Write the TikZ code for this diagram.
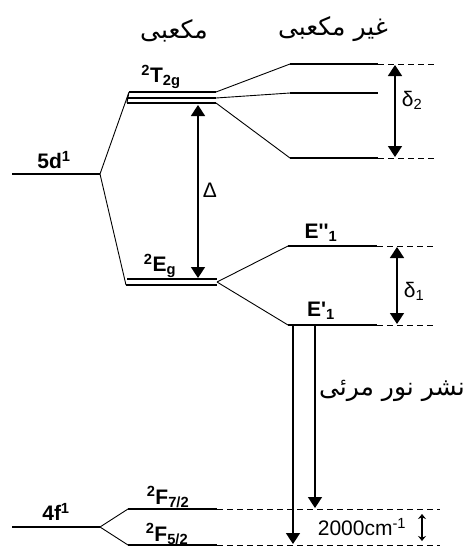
\documentclass[tikz,border=0pt]{standalone}
\usepackage{fontspec}
\setmainfont{Liberation Sans}
\newfontfamily\farsi[Script=Arabic]{DejaVu Sans}
\TeXXeTstate=1
\usetikzlibrary{arrows.meta}
\begin{document}
\begin{tikzpicture}[x=1pt,y=-1pt,
 level/.style={line width=2pt},
 link/.style={line width=0.9pt},
 guide/.style={line width=0.9pt, dash pattern=on 6pt off 4pt},
 gaparrow/.style={line width=1.6pt, {Triangle[width=14pt,length=11pt]}-{Triangle[width=14pt,length=11pt]}},
 emit/.style={line width=1.6pt, -{Triangle[width=14pt,length=11pt]}},
 smallarrow/.style={line width=1.3pt, {Stealth[width=8pt,length=5pt]}-{Stealth[width=8pt,length=5pt]}},
 lbl/.style={font=\fontsize{21}{23}\selectfont\bfseries, inner sep=0pt},
 greek/.style={font=\fontsize{21}{23}\selectfont, inner sep=0pt},
 fa/.style={font=\fontsize{25}{28}\selectfont\farsi, inner sep=0pt}]
\useasboundingbox (0,0) rectangle (473,547);
% coordinates of levels
\coordinate (d5a) at (12,174);  \coordinate (d5b) at (100,174);
\coordinate (t1a) at (129,92);  \coordinate (t1b) at (216,92);
\coordinate (t2a) at (127,98);  \coordinate (t2b) at (216,98);
\coordinate (t3a) at (127,103); \coordinate (t3b) at (216,103);
\coordinate (e1a) at (127,279); \coordinate (e1b) at (217,279);
\coordinate (e2a) at (126,285); \coordinate (e2b) at (217,285);
\coordinate (eg) at (217,282);
\coordinate (n1a) at (290,64);  \coordinate (n1b) at (378,64);  \coordinate (n1c) at (435,64);
\coordinate (n2a) at (290,93);  \coordinate (n2b) at (378,93);
\coordinate (n3a) at (290,158); \coordinate (n3b) at (378,158); \coordinate (n3c) at (435,158);
\coordinate (ea) at (288,246);  \coordinate (eb) at (377,246);  \coordinate (ec) at (433,246);
\coordinate (fa) at (288,325);  \coordinate (fb) at (377,325);  \coordinate (fc) at (433,325);
\coordinate (f4a) at (12,527);  \coordinate (f4b) at (100,527);
\coordinate (s7a) at (128,509); \coordinate (s7b) at (217,509); \coordinate (s7c) at (440,509);
\coordinate (s5a) at (128,545); \coordinate (s5b) at (217,545); \coordinate (s5c) at (440,545);
% levels
\draw[level] (d5a) -- (d5b);
\draw[level] (t1a) -- (t1b);
\draw[level] (t2a) -- (t2b);
\draw[level] (t3a) -- (t3b);
\draw[level] (e1a) -- (e1b);
\draw[level] (e2a) -- (e2b);
\draw[level] (n1a) -- (n1b);
\draw[level] (n2a) -- (n2b);
\draw[level] (n3a) -- (n3b);
\draw[level] (ea) -- (eb);
\draw[level] (fa) -- (fb);
\draw[level] (f4a) -- (f4b);
\draw[level] (s7a) -- (s7b);
\draw[level] (s5a) -- (s5b);
% dashed guides
\draw[guide] (n1b) -- (n1c);
\draw[guide] (n3b) -- (n3c);
\draw[guide] (eb) -- (ec);
\draw[guide] (fb) -- (fc);
\draw[guide] (s7b) -- (s7c);
\draw[guide] (s5b) -- (s5c);
% links
\draw[link] (d5b) -- (t1a) -- (t3a);
\draw[link] (d5b) -- (e2a);
\draw[link] (t1b) -- (n1a);
\draw[link] (t2b) -- (n2a);
\draw[link] (t3b) -- (n3a);
\draw[link] (eg) -- (ea);
\draw[link] (eg) -- (fa);
\draw[link] (f4b) -- (s7a);
\draw[link] (f4b) -- (s5a);
% arrows
\coordinate (dta) at (198,105); \coordinate (dtb) at (198,278);
\draw[gaparrow] (dta) -- (dtb);
\coordinate (d2a) at (395,65); \coordinate (d2b) at (395,157);
\draw[gaparrow] (d2a) -- (d2b);
\coordinate (d1a) at (397,247); \coordinate (d1b) at (397,324);
\draw[gaparrow] (d1a) -- (d1b);
\coordinate (m1a) at (293,326); \coordinate (m1b) at (293,544);
\draw[emit] (m1a) -- (m1b);
\coordinate (m2a) at (315,326); \coordinate (m2b) at (315,508);
\draw[emit] (m2a) -- (m2b);
\coordinate (sa) at (422,514); \coordinate (sb) at (422,541);
\draw[smallarrow] (sa) -- (sb);
% labels
\node[lbl] (l5d) at (54,160) {5d\textsuperscript{1}};
\node[lbl] (l4f) at (56,512) {4f\textsuperscript{1}};
\node[lbl] (lt) at (161,77) {\textsuperscript{2}T\textsubscript{2g}};
\node[lbl] (le) at (160,266) {\textsuperscript{2}E\textsubscript{g}};
\node[lbl] (lea) at (321,233) {E\textquotesingle\textquotesingle\textsubscript{1}};
\node[lbl] (leb) at (321,311) {E\textquotesingle\textsubscript{1}};
\node[lbl] (lf7) at (168,497) {\textsuperscript{2}F\textsubscript{7/2}};
\node[lbl] (lf5) at (167,534) {\textsuperscript{2}F\textsubscript{5/2}};
\node[greek] (ld2) at (412,100) {δ\textsubscript{2}};
\node[greek] (ld1) at (414,291) {δ\textsubscript{1}};
\node[greek] (lD) at (210,190) {Δ};
\node[greek] (lcm) at (362,527) {2000cm\textsuperscript{-1}};
\node[fa] (lcub) at (174,31) {\beginR مکعبی\endR};
\node[fa] (lnon) at (333,29) {\beginR غیر مکعبی\endR};
\node[fa] (lem) at (392,391) {\beginR نشر نور مرئی\endR};
\end{tikzpicture}
\end{document}
